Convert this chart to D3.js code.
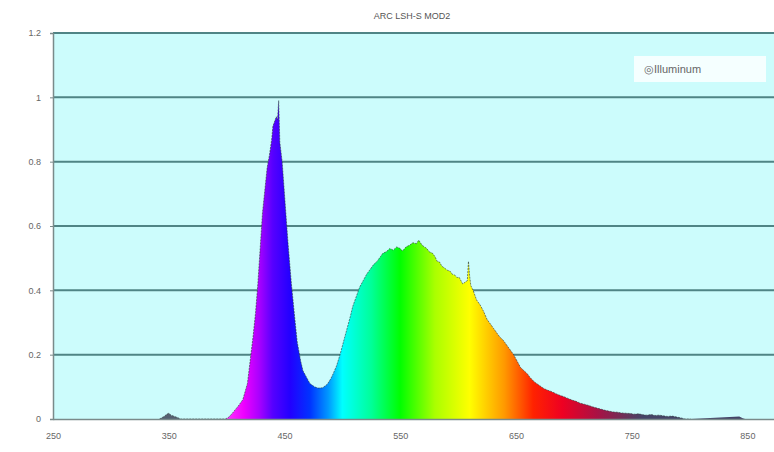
<!DOCTYPE html>
<html><head><meta charset="utf-8">
<script src="https://cdn.jsdelivr.net/npm/d3@7"></script>
<style>body{margin:0;background:#fff}svg{display:block}</style>
</head><body>
<svg id="c" width="774" height="452"></svg>
<script>
const title = "ARC LSH-S MOD2";
const legendLabel = "◎Illuminum";
const wavelengths = [250,342,346,348,350,352,355,358,360,399,402,405,410,414,418,420,423,425,427,429,431,433,435,437,439,440,442,443,444,445,446,448,450,453,456,459,461,464,466,469,472,476,479,483,487,490,492,495,498,501,504,507,509,512,515,518,521,524,527,530,533,535,538,541,544,547,550,552,555,558,561,564,566,569,571,573,575,578,580,582,584,586,588,591,593,595,597,599,601,604,606,608,609,610,611,613,616,619,622,625,628,631,634,636,639,642,645,648,651,654,657,660,662,666,670,674,677,681,685,689,691,695,699,702,705,709,713,716,720,724,727,731,734,738,741,745,749,752,756,760,763,767,770,774,777,781,785,789,792,796,801,843,846,848,850,873];
const values = [0,0,0.008,0.014,0.018,0.012,0.008,0.004,0,0,0.006,0.018,0.04,0.06,0.11,0.17,0.26,0.33,0.42,0.53,0.64,0.71,0.78,0.82,0.87,0.91,0.93,0.94,0.93,0.99,0.86,0.8,0.7,0.55,0.42,0.31,0.24,0.18,0.15,0.13,0.11,0.1,0.096,0.097,0.108,0.125,0.14,0.165,0.2,0.24,0.28,0.32,0.35,0.38,0.41,0.43,0.45,0.465,0.48,0.49,0.505,0.515,0.52,0.53,0.525,0.535,0.53,0.522,0.535,0.54,0.548,0.545,0.556,0.54,0.535,0.53,0.52,0.515,0.505,0.49,0.488,0.475,0.47,0.462,0.46,0.45,0.448,0.44,0.44,0.42,0.425,0.43,0.49,0.445,0.415,0.4,0.37,0.355,0.335,0.31,0.295,0.28,0.265,0.255,0.245,0.23,0.215,0.2,0.18,0.16,0.15,0.14,0.13,0.115,0.105,0.095,0.09,0.085,0.078,0.072,0.07,0.064,0.058,0.055,0.05,0.046,0.042,0.038,0.034,0.03,0.027,0.024,0.022,0.021,0.019,0.018,0.017,0.015,0.016,0.013,0.012,0.014,0.011,0.012,0.01,0.008,0.009,0.006,0.004,0,0,0.008,0.002,0,0];
const xTicks = [250,350,450,550,650,750,850];
const yTicks = [0,0.2,0.4,0.6,0.8,1,1.2];
const yTickLabels = ["0","0.2","0.4","0.6","0.8","1","1.2"];
const colorStopNm = [380,398,400,415,428,440,455,472,488,500,525,550,580,610,640,665,690,720,760];
const colorStopCol = ["#556070","#556070","#ff33ff","#ee00ff","#aa00ff","#5500ff","#2200ff","#0033ff","#0099ff","#00ffff","#00ff99","#00ff00","#aaff00","#ffff00","#ff9900","#ff2200","#ee0022","#aa1144","#444466"];

const svg = d3.select("#c");
const L = 53, R = 774, T = 33, B = 419;
const x = d3.scaleLinear().domain([250, 873]).range([L, R]);
const y = d3.scaleLinear().domain([0, 1.2]).range([B, T]);
const data = wavelengths.map((w,i)=>({w, v: values[i]}));

svg.append("rect").attr("x",L).attr("y",T).attr("width",R-L).attr("height",B-T).attr("fill","#ccfcfc");

const defs = svg.append("defs");
const grad = defs.append("linearGradient").attr("id","spec").attr("gradientUnits","userSpaceOnUse")
  .attr("x1", x(colorStopNm[0])).attr("x2", x(colorStopNm[colorStopNm.length-1])).attr("y1",0).attr("y2",0);
const span = colorStopNm[colorStopNm.length-1]-colorStopNm[0];
colorStopNm.forEach((n,i)=>grad.append("stop").attr("offset", (n-colorStopNm[0])/span).attr("stop-color", colorStopCol[i]));

// grid
svg.append("g").selectAll("line").data(yTicks.filter(d=>d>0)).join("line")
  .attr("x1",L).attr("x2",R).attr("y1",d=>y(d)).attr("y2",d=>y(d))
  .attr("stroke","#4f8485").attr("stroke-width",2);

// area
const area = d3.area().x(d=>x(d.w)).y0(y(0)).y1(d=>y(d.v));
svg.append("path").datum(data).attr("d",area).attr("fill","url(#spec)");
const line = d3.line().x(d=>x(d.w)).y(d=>y(d.v));
svg.append("path").datum(data.filter(d=>d.w>340 && d.w<=801)).attr("d",line).attr("fill","none")
  .attr("stroke","#2a3a3a").attr("stroke-width",1).attr("stroke-opacity",0.6).attr("stroke-dasharray","2,1");

// axes
const yAxis = svg.append("g").attr("transform",`translate(${L},0)`)
  .call(d3.axisLeft(y).tickValues(yTicks).tickFormat((d,i)=>yTickLabels[i]).tickSize(3).tickPadding(9));
const xAxis = svg.append("g").attr("transform",`translate(0,${B})`)
  .call(d3.axisBottom(x).tickValues(xTicks).tickFormat(d3.format("d")).tickSize(0).tickPadding(14));
[yAxis,xAxis].forEach(a=>{
  a.select(".domain").attr("stroke","#7a8a8a").attr("stroke-width",1.5);
  a.selectAll(".tick line").attr("stroke","#7a8a8a");
  a.selectAll("text").attr("fill","#666").attr("font-family","Liberation Sans, Arial, sans-serif").attr("font-size",9);
});

// title
svg.append("text").attr("x",412).attr("y",19).attr("text-anchor","middle")
  .attr("font-family","Liberation Sans, Arial, sans-serif").attr("font-size",9).attr("fill","#555").text(title);

// legend
svg.append("rect").attr("x",634).attr("y",56).attr("width",132).attr("height",26).attr("fill","#ffffff").attr("fill-opacity",0.8);
svg.append("text").attr("x",644).attr("y",73).attr("font-family","Liberation Sans, Arial, sans-serif")
  .attr("font-size",11).attr("fill","#666").text(legendLabel);
</script>
</body></html>
